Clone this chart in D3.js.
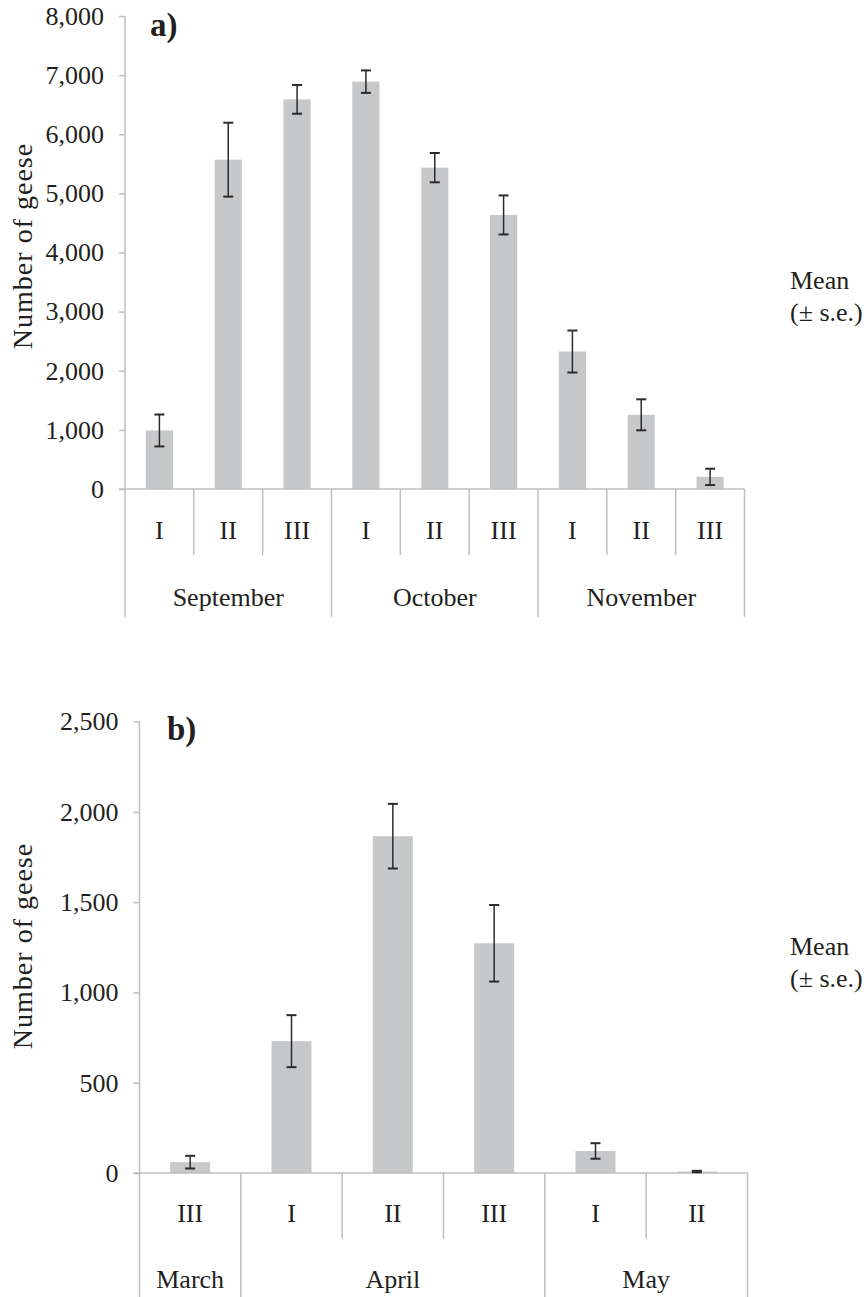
<!DOCTYPE html>
<html>
<head>
<meta charset="utf-8">
<script src="https://cdn.jsdelivr.net/npm/d3@7"></script>
<style>
  html, body { margin: 0; padding: 0; background: #fff; }
  svg text { font-family: "Liberation Serif", "DejaVu Serif", serif; fill: #231f20; }
</style>
</head>
<body>
<svg id="chart" width="868" height="1297"></svg>
<script>
// ---------- Data: panel a) autumn ----------
const periodsA = ["I", "II", "III", "I", "II", "III", "I", "II", "III"];
const monthsA = ["September", "October", "November"];
const monthCountsA = [3, 3, 3];
const meansA = [990, 5570, 6590, 6890, 5435, 4635, 2325, 1255, 205];
const seA = [270, 625, 243, 190, 248, 330, 355, 262, 138];
const yTicksA = [0, 1000, 2000, 3000, 4000, 5000, 6000, 7000, 8000];

// ---------- Data: panel b) spring ----------
const periodsB = ["III", "I", "II", "III", "I", "II"];
const monthsB = ["March", "April", "May"];
const monthCountsB = [1, 3, 2];
const meansB = [60, 730, 1865, 1272, 122, 8];
const seB = [35, 144, 179, 212, 43, 4];
const yTicksB = [0, 500, 1000, 1500, 2000, 2500];

const axisColor = "#bfbfbf";
const barColor = "#c7c8ca";
const errColor = "#2b2b2b";
const fontSize = 26;

const svg = d3.select("#chart");

function panel(cfg) {
  const g = svg.append("g");
  const n = cfg.periods.length;
  const x = d3.scaleBand().domain(d3.range(n)).range([cfg.x0, cfg.x1]).padding(0);
  const y = d3.scaleLinear().domain([0, cfg.yMax]).range([cfg.yBase, cfg.yTop]);
  const bw = x.bandwidth() * 0.395;

  // y axis ticks and labels
  const yAxis = d3.axisLeft(y).tickValues(cfg.yTicks).tickFormat(d3.format(","))
    .tickSize(6).tickPadding(15);
  const ya = g.append("g").attr("transform", `translate(${cfg.x0},0)`).call(yAxis);
  ya.select(".domain").remove();
  ya.selectAll(".tick line").attr("stroke", axisColor).attr("stroke-width", 1.5);
  ya.selectAll(".tick text").style("font-size", fontSize + "px")
    .style("font-family", '"Liberation Serif", serif').attr("fill", "#231f20");

  // vertical axis line, extending through category area
  g.append("line").attr("x1", cfg.x0).attr("x2", cfg.x0)
    .attr("y1", cfg.yTop).attr("y2", cfg.yLong)
    .attr("stroke", axisColor).attr("stroke-width", 1.5);

  // bars
  g.selectAll("rect.bar").data(cfg.means).join("rect")
    .attr("class", "bar")
    .attr("x", (d, i) => x(i) + x.bandwidth() / 2 - bw / 2)
    .attr("width", bw)
    .attr("y", d => y(d))
    .attr("height", d => y(0) - y(d))
    .attr("fill", barColor);

  // baseline (x axis)
  g.append("line").attr("x1", cfg.x0 - 6).attr("x2", cfg.x1)
    .attr("y1", y(0)).attr("y2", y(0))
    .attr("stroke", axisColor).attr("stroke-width", 1.5);

  // error bars
  const capW = 10;
  const eb = g.selectAll("g.err").data(cfg.means.map((m, i) => ({ m, s: cfg.se[i], i }))).join("g")
    .attr("class", "err");
  eb.append("line")
    .attr("x1", d => x(d.i) + x.bandwidth() / 2).attr("x2", d => x(d.i) + x.bandwidth() / 2)
    .attr("y1", d => y(d.m + d.s)).attr("y2", d => y(Math.max(0, d.m - d.s)))
    .attr("stroke", errColor).attr("stroke-width", 1.5);
  eb.append("line")
    .attr("x1", d => x(d.i) + x.bandwidth() / 2 - capW / 2).attr("x2", d => x(d.i) + x.bandwidth() / 2 + capW / 2)
    .attr("y1", d => y(d.m + d.s)).attr("y2", d => y(d.m + d.s))
    .attr("stroke", errColor).attr("stroke-width", 2);
  eb.append("line")
    .attr("x1", d => x(d.i) + x.bandwidth() / 2 - capW / 2).attr("x2", d => x(d.i) + x.bandwidth() / 2 + capW / 2)
    .attr("y1", d => y(Math.max(0, d.m - d.s))).attr("y2", d => y(Math.max(0, d.m - d.s)))
    .attr("stroke", errColor).attr("stroke-width", 2);

  // category dividers
  const monthStarts = [];
  let acc = 0;
  cfg.monthCounts.forEach(c => { monthStarts.push(acc); acc += c; });
  const longIdx = new Set(monthStarts.concat([n]));
  for (let i = 1; i <= n; i++) {
    const xx = i < n ? x(i) : cfg.x1;
    const isLong = longIdx.has(i);
    g.append("line").attr("x1", xx).attr("x2", xx)
      .attr("y1", y(0)).attr("y2", isLong ? cfg.yLong : cfg.yShort)
      .attr("stroke", axisColor).attr("stroke-width", 1.5);
  }

  // period labels
  g.selectAll("text.per").data(cfg.periods).join("text")
    .attr("class", "per")
    .attr("x", (d, i) => x(i) + x.bandwidth() / 2)
    .attr("y", cfg.perBaseline)
    .attr("text-anchor", "middle")
    .style("font-size", fontSize + "px")
    .text(d => d);

  // month labels
  g.selectAll("text.mon").data(cfg.months).join("text")
    .attr("class", "mon")
    .attr("x", (d, k) => {
      const s = monthStarts[k], e = s + cfg.monthCounts[k];
      const xe = e < n ? x(e) : cfg.x1;
      return (x(s) + xe) / 2;
    })
    .attr("y", cfg.monBaseline)
    .attr("text-anchor", "middle")
    .style("font-size", fontSize + "px")
    .text(d => d);

  // panel label
  g.append("text").attr("x", cfg.labX).attr("y", cfg.labY)
    .style("font-size", "33px").style("font-weight", "bold")
    .text(cfg.label);

  // y title
  g.append("text")
    .attr("transform", `translate(${cfg.titleX},${cfg.titleY}) rotate(-90)`)
    .attr("text-anchor", "middle")
    .style("font-size", "28px")
    .style("letter-spacing", "1px")
    .text("Number of geese");

  // Mean (± s.e.) note
  g.append("text").attr("x", cfg.noteX).attr("y", cfg.noteY)
    .style("font-size", fontSize + "px").text("Mean");
  g.append("text").attr("x", cfg.noteX).attr("y", cfg.noteY + 32)
    .style("font-size", fontSize + "px").text("(\u00B1 s.e.)");
}

panel({
  periods: periodsA, months: monthsA, monthCounts: monthCountsA,
  means: meansA, se: seA, yTicks: yTicksA, yMax: 8000,
  x0: 125, x1: 744.5, yBase: 489, yTop: 16,
  yShort: 555, yLong: 617, perBaseline: 539, monBaseline: 606,
  label: "a)", labX: 150, labY: 36,
  titleX: 32, titleY: 246, noteX: 790, noteY: 289
});

panel({
  periods: periodsB, months: monthsB, monthCounts: monthCountsB,
  means: meansB, se: seB, yTicks: yTicksB, yMax: 2500,
  x0: 139.5, x1: 747.5, yBase: 1173, yTop: 721.5,
  yShort: 1239, yLong: 1297, perBaseline: 1222, monBaseline: 1288,
  label: "b)", labX: 167, labY: 740,
  titleX: 32, titleY: 946, noteX: 790, noteY: 955
});
</script>
</body>
</html>
